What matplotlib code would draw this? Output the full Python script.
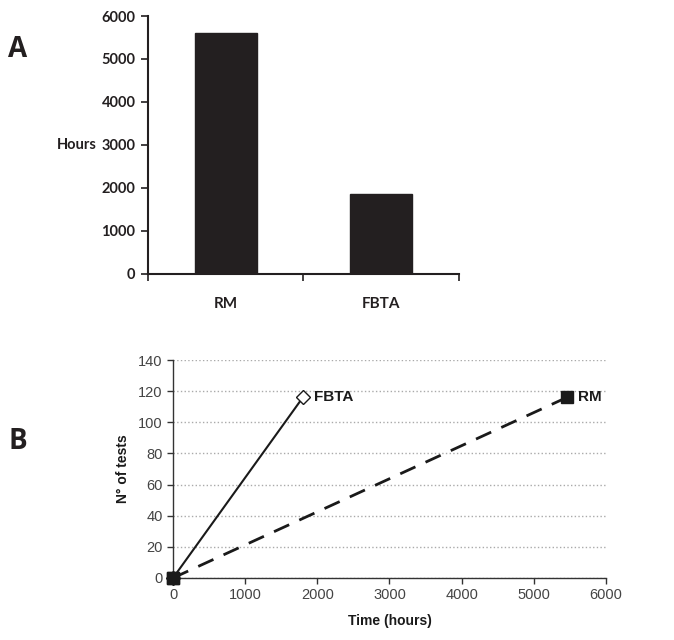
import matplotlib
matplotlib.use("Agg")
import matplotlib.pyplot as plt

# Panel A data
categories = ["RM", "FBTA"]
hours = [5600, 1870]

# Panel B data
fbta_time = [0, 1800]
fbta_tests = [0, 116]
rm_time = [0, 5460]
rm_tests = [0, 116]

fig = plt.figure(figsize=(6.74, 6.4), dpi=100)

# ---- Panel A ----
axA = fig.add_axes([0.2196, 0.572, 0.461, 0.403])
xs = list(range(len(categories)))
axA.bar(xs, hours, width=0.4, color="#231f20", edgecolor="#231f20")
axA.set_xlim(-0.5, 1.5)
axA.set_ylim(0, 6000)
axA.set_yticks(range(0, 6001, 1000))
axA.set_xticks([-0.5, 0.5, 1.5])
axA.set_xticklabels([])
axA.tick_params(axis="x", direction="out", length=5, width=1.2, color="#231f20")
axA.tick_params(axis="y", direction="out", length=5, width=1.2, color="#231f20", pad=4)
for lab in axA.get_yticklabels():
    lab.set_fontfamily("Lato")
    lab.set_fontweight("bold")
    lab.set_fontsize(10.5)
    lab.set_color("#231f20")
for x, c in zip(xs, categories):
    axA.text(x, -0.115, c, transform=axA.get_xaxis_transform(), ha="center", va="center",
             fontfamily="Lato", fontweight="bold", fontsize=11, color="#231f20")
axA.spines["top"].set_visible(False)
axA.spines["right"].set_visible(False)
for s in ("left", "bottom"):
    axA.spines[s].set_linewidth(1.5)
    axA.spines[s].set_color("#231f20")
fig.text(0.143, 0.773, "Hours", ha="right", va="center", fontfamily="Lato",
         fontweight="bold", fontsize=10.5, color="#231f20")
fig.text(0.012, 0.922, "A", ha="left", va="center", fontfamily="Open Sans",
         fontweight="bold", fontsize=20, color="#231f20")

# ---- Panel B ----
axB = fig.add_axes([0.2567, 0.0969, 0.6423, 0.3406])
axB.set_xlim(0, 6000)
axB.set_ylim(0, 140)
axB.set_yticks(range(0, 141, 20))
axB.set_xticks(range(0, 6001, 1000))
axB.yaxis.grid(True, linestyle=":", color="#aaaaaa", linewidth=1.0)
axB.set_axisbelow(True)
axB.plot(rm_time, rm_tests, color="#1a1a1a", linewidth=2.0, linestyle=(0, (6, 4)),
         marker="s", markersize=9, markerfacecolor="#1a1a1a", markeredgecolor="#1a1a1a",
         clip_on=False, zorder=3)
axB.plot(fbta_time, fbta_tests, color="#1a1a1a", linewidth=1.5, linestyle="-",
         marker="D", markersize=7, markerfacecolor="white", markeredgecolor="#1a1a1a",
         clip_on=False, zorder=4)
axB.plot([rm_time[0]], [rm_tests[0]], marker="s", markersize=9, color="#1a1a1a",
         clip_on=False, zorder=5)
axB.annotate("FBTA", (fbta_time[-1], fbta_tests[-1]), xytext=(8, 0), textcoords="offset points",
             ha="left", va="center", fontfamily="Liberation Sans", fontweight="bold",
             fontsize=11, color="#1a1a1a")
axB.annotate("RM", (rm_time[-1], rm_tests[-1]), xytext=(8, 0), textcoords="offset points",
             ha="left", va="center", fontfamily="Liberation Sans", fontweight="bold",
             fontsize=11, color="#1a1a1a")
axB.tick_params(axis="both", direction="out", length=4, width=1.0, color="#333333",
                labelsize=10.5, labelcolor="#444444")
for lab in axB.get_xticklabels() + axB.get_yticklabels():
    lab.set_fontfamily("Liberation Sans")
axB.spines["top"].set_visible(False)
axB.spines["right"].set_visible(False)
for s in ("left", "bottom"):
    axB.spines[s].set_linewidth(1.0)
    axB.spines[s].set_color("#333333")
axB.set_xlabel("Time (hours)", fontfamily="Liberation Sans", fontweight="bold",
               fontsize=10, color="#1a1a1a", labelpad=8)
axB.set_ylabel("N° of tests", fontfamily="Liberation Sans", fontweight="bold",
               fontsize=10, color="#1a1a1a", labelpad=6)
fig.text(0.012, 0.31, "B", ha="left", va="center", fontfamily="Open Sans",
         fontweight="bold", fontsize=20, color="#231f20")

fig.savefig("out.png", dpi=100)
